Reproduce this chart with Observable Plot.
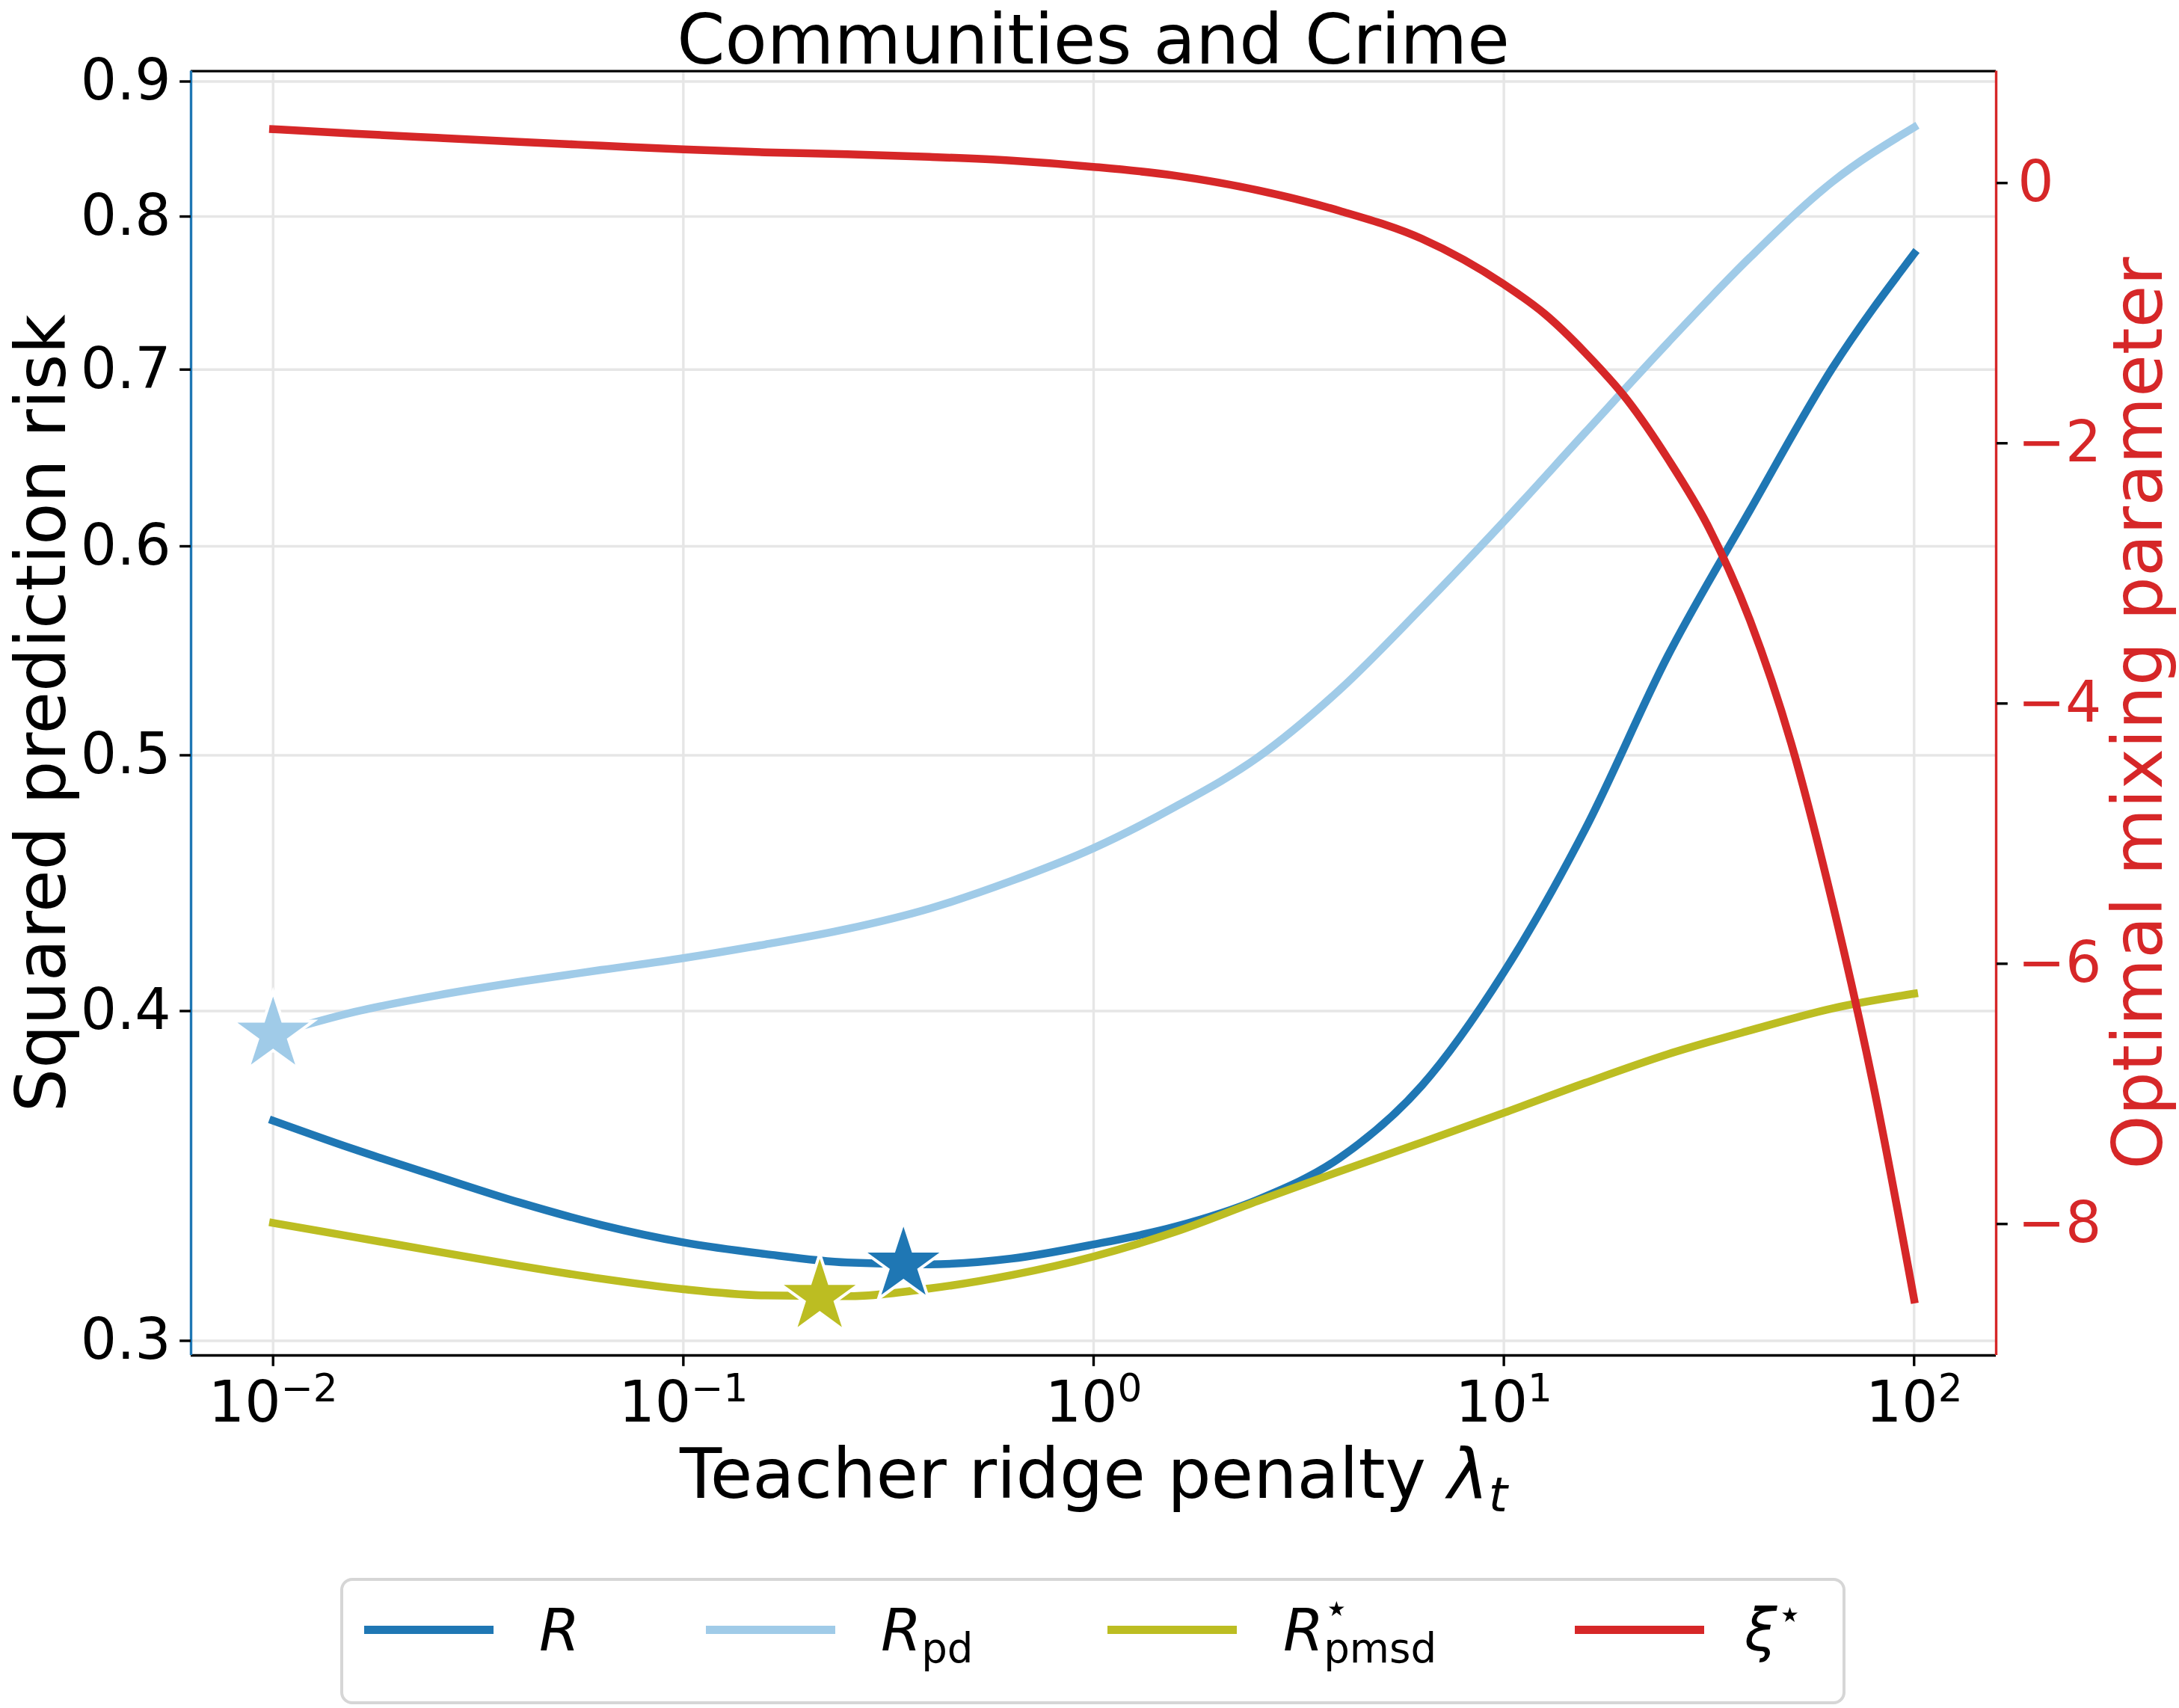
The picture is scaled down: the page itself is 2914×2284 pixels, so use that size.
<!DOCTYPE html>
<html><head><meta charset="utf-8">
<script src="https://cdn.jsdelivr.net/npm/d3@7"></script>
<script src="https://cdn.jsdelivr.net/npm/@observablehq/plot@0.6"></script>
<style>
html,body{margin:0;padding:0;background:#fff;}
body{width:2914px;height:2284px;overflow:hidden;font-family:"DejaVu Sans",sans-serif;color:#000;}
#title{height:75px;line-height:108px;font-size:92px;text-align:center;width:2414px;margin-left:255px;white-space:nowrap;overflow:visible;}
#chart{position:relative;width:2914px;height:1985px;}
#chart svg{position:absolute;left:0;top:0;overflow:visible;}
#legend{position:relative;box-sizing:border-box;margin-left:455px;margin-top:50px;width:2013px;height:169px;border:4px solid #d6d6d6;border-radius:16px;font-size:78px;}
.sw{position:absolute;top:60px;width:173px;height:11px;}
.lab{position:absolute;top:27px;line-height:78px;white-space:nowrap;}
.it{font-style:italic;}
.sub{font-size:0.7em;position:relative;top:0.3em;}
.sup{font-size:0.7em;position:relative;top:-0.55em;}
.stack{position:relative;display:inline-block;}
.stack .sup2{position:absolute;left:0;top:-0.55em;font-size:0.7em;}
</style></head><body>
<div id="title"></div>
<div id="chart"></div>
<div id="legend"></div>
<script>
// ---------- data ----------
const titleText = "Communities and Crime";
const xLabelParts = ["Teacher ridge penalty ", "λ", "t"];
const yLabelText = "Squared prediction risk";
const y2LabelText = "Optimal mixing parameter";

const lambda = [0.01, 0.0158, 0.0251, 0.0398, 0.0631, 0.1, 0.158, 0.251, 0.398, 0.631, 1, 1.58, 2.51, 3.98, 6.31, 10, 15.8, 25.1, 39.8, 63.1, 100];
const riskR = [0.3635, 0.3545, 0.3463, 0.3385, 0.3319, 0.3269, 0.3236, 0.3212, 0.3207, 0.3223, 0.3263, 0.3314, 0.3393, 0.3519, 0.3748, 0.4138, 0.4689, 0.5453, 0.6191, 0.7006, 0.7745];
const riskPd = [0.3920, 0.3997, 0.4055, 0.4103, 0.4146, 0.4189, 0.4239, 0.4297, 0.4374, 0.4481, 0.4611, 0.4780, 0.4990, 0.5294, 0.5687, 0.6131, 0.6627, 0.7166, 0.7719, 0.8244, 0.8648];
const riskPmsd = [0.3325, 0.3284, 0.3243, 0.3203, 0.3167, 0.3138, 0.3121, 0.3119, 0.3140, 0.3177, 0.3229, 0.3299, 0.3389, 0.3478, 0.3567, 0.3660, 0.3757, 0.3852, 0.3933, 0.4009, 0.4061];

const lambdaXi = [0.01, 0.0158, 0.0251, 0.0398, 0.0631, 0.1, 0.158, 0.251, 0.398, 0.631, 1, 1.58, 2.51, 3.98, 6.31, 10, 12.6, 15.8, 20, 25.1, 31.6, 39.8, 50.1, 63.1, 79.4, 100];
const xiStar = [0.414, 0.379, 0.347, 0.316, 0.287, 0.258, 0.236, 0.221, 0.201, 0.172, 0.124, 0.057, -0.055, -0.214, -0.428, -0.778, -1.008, -1.305, -1.668, -2.118, -2.65, -3.36, -4.30, -5.52, -6.92, -8.58];

const starSeries = ["R", "Rpd", "Rpmsd"];
const starLambda = [0.344, 0.01, 0.215];
const starRisk = [0.3207, 0.392, 0.3118];

const xTicks = [0.01, 0.1, 1, 10, 100];
const xTickExp = ["−2", "−1", "0", "1", "2"];
const yTicks = [0.3, 0.4, 0.5, 0.6, 0.7, 0.8, 0.9];
const y2Ticks = [0, -2, -4, -6, -8];

const xDomain = [0.00631, 158.5];
const yDomain = [0.2962, 0.9082];
const y2Domain = [-9.01, 0.86];

const legendSeries = ["R", "Rpd", "Rpmsd", "xi"];

// ---------- styles ----------
const colors = {R: "#1f77b4", Rpd: "#a0cbe8", Rpmsd: "#bcbd22", xi: "#d62728"};
const W = 2914, H = 1985;
const M = {marginLeft: 255, marginRight: 245, marginTop: 19.6, marginBottom: 248};
const LW = 10.5, SW = 3.4, TICK = 14.8, FS = 76, LFS = 92;
const gridColor = "#e6e6e6";
const svgStyle = {fontFamily: "DejaVu Sans", fontSize: FS + "px", background: "none", overflow: "visible"};

document.getElementById("title").textContent = titleText;

const lineOpts = (ys, c) => ({x: d => d, y: (d, i) => ys[i], stroke: c, strokeWidth: LW, curve: "monotone-x", strokeLinecap: "square", strokeLinejoin: "round"});

const starMarks = starSeries.map((s, i) => Plot.dot([starLambda[i]], {
  x: d => d, y: () => starRisk[i], symbol: "star", r: 34, fill: colors[s], stroke: "white", strokeWidth: 4
}));

const p1 = Plot.plot({
  width: W, height: H, ...M,
  style: svgStyle,
  x: {type: "log", domain: xDomain},
  y: {type: "log", domain: yDomain},
  marks: [
    Plot.gridX(xTicks, {stroke: gridColor, strokeOpacity: 1, strokeWidth: SW}),
    Plot.gridY(yTicks, {stroke: gridColor, strokeOpacity: 1, strokeWidth: SW}),
    Plot.line(lambda, lineOpts(riskR, colors.R)),
    Plot.line(lambda, lineOpts(riskPd, colors.Rpd)),
    Plot.line(lambda, lineOpts(riskPmsd, colors.Rpmsd)),
    ...starMarks,
    Plot.ruleY([yDomain[0]], {stroke: "black", strokeWidth: SW}),
    Plot.ruleY([yDomain[1]], {stroke: "black", strokeWidth: SW}),
    Plot.ruleX([xDomain[0]], {stroke: colors.R, strokeWidth: SW}),
    Plot.axisX({ticks: xTicks, tickFormat: (d) => "10^" + xTickExp[xTicks.indexOf(d)], tickSize: TICK, tickPadding: 19.6, stroke: "black", strokeWidth: SW, fill: "black", fontSize: FS, label: null}),
    Plot.axisY({ticks: yTicks, tickFormat: d3.format(".1f"), tickSize: TICK, tickPadding: 12, stroke: "black", strokeWidth: SW, fill: "black", fontSize: FS, label: null}),
    Plot.text([xLabelParts.join("")], {text: d => d, frameAnchor: "bottom", textAnchor: "middle", lineAnchor: "bottom", dy: 190, fontSize: LFS, fill: "black"}),
    Plot.text([yLabelText], {text: d => d, frameAnchor: "left", textAnchor: "middle", rotate: -90, lineAnchor: "bottom", dx: -169, fontSize: LFS, fill: "black"})
  ]
});

const p2 = Plot.plot({
  width: W, height: H, ...M,
  style: svgStyle,
  x: {type: "log", domain: xDomain, axis: null},
  y: {domain: y2Domain},
  marks: [
    Plot.line(lambdaXi, {x: d => d, y: (d, i) => xiStar[i], stroke: colors.xi, strokeWidth: LW, curve: "monotone-x", strokeLinecap: "square", strokeLinejoin: "round"}),
    Plot.ruleX([xDomain[1]], {stroke: colors.xi, strokeWidth: SW}),
    Plot.axisY({anchor: "right", ticks: y2Ticks, tickFormat: d => d === 0 ? "0" : "\u2212" + Math.abs(d), tickSize: TICK, tickPadding: 14, stroke: "black", strokeWidth: SW, fill: colors.xi, fontSize: FS, label: null}),
    Plot.text([y2LabelText], {text: d => d, frameAnchor: "right", textAnchor: "middle", rotate: -90, lineAnchor: "bottom", dx: 221, fontSize: LFS, fill: colors.xi})
  ]
});

const chart = document.getElementById("chart");
chart.appendChild(p1);
chart.appendChild(p2);

// rich text: superscripts on x ticks
const NS = "http://www.w3.org/2000/svg";
p1.querySelectorAll('g[aria-label="x-axis tick label"] text').forEach(t => {
  const s = t.textContent;
  if (!s.includes("^")) return;
  const [base, exp] = s.split("^");
  t.textContent = "";
  const a = document.createElementNS(NS, "tspan"); a.textContent = base; t.appendChild(a);
  const b = document.createElementNS(NS, "tspan"); b.textContent = exp;
  b.setAttribute("font-size", "0.68em"); b.setAttribute("dy", "-0.52em"); t.appendChild(b);
});
// x label with italic lambda and subscript t
p1.querySelectorAll("text").forEach(t => {
  if (t.textContent !== xLabelParts.join("")) return;
  t.textContent = "";
  const a = document.createElementNS(NS, "tspan"); a.textContent = xLabelParts[0]; t.appendChild(a);
  const b = document.createElementNS(NS, "tspan"); b.textContent = xLabelParts[1]; b.setAttribute("font-style", "italic"); t.appendChild(b);
  const c = document.createElementNS(NS, "tspan"); c.textContent = xLabelParts[2]; c.setAttribute("font-style", "italic");
  c.setAttribute("font-size", "0.7em"); c.setAttribute("dy", "0.29em"); t.appendChild(c);
});

// legend
const legendHTML = {
  R: '<span class="it">R</span>',
  Rpd: '<span class="it">R</span><span class="sub">pd</span>',
  Rpmsd: '<span class="it">R</span><span class="stack"><span class="sub">pmsd</span><span class="sup2">⋆</span></span>',
  xi: '<span class="it">ξ</span><span class="sup">⋆</span>'
};
const swLeft = [28, 485, 1022, 1647];
const labLeft = [262, 719, 1257, 1874];
const legend = document.getElementById("legend");
legendSeries.forEach((s, i) => {
  const sw = document.createElement("div");
  sw.className = "sw"; sw.style.left = swLeft[i] + "px"; sw.style.background = colors[s];
  legend.appendChild(sw);
  const lb = document.createElement("div");
  lb.className = "lab"; lb.style.left = labLeft[i] + "px"; lb.innerHTML = legendHTML[s];
  legend.appendChild(lb);
});
</script></body></html>
